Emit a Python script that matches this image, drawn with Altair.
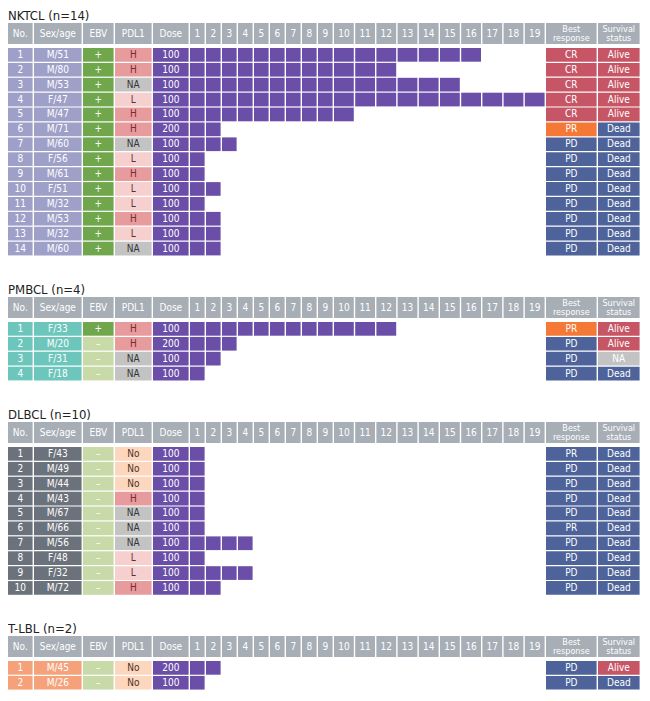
import altair as alt
import pandas as pd

# ---------------- data ----------------
COLUMNS = ["No.", "Sex/age", "EBV", "PDL1", "Dose"] + [str(i) for i in range(1, 20)] + ["Best\nresponse", "Survival\nstatus"]

NK_SEX = ["M/51", "M/80", "M/53", "F/47", "M/47", "M/71", "M/60", "F/56", "M/61", "F/51", "M/32", "M/53", "M/32", "M/60"]
NK_EBV = ["+", "+", "+", "+", "+", "+", "+", "+", "+", "+", "+", "+", "+", "+"]
NK_PDL1 = ["H", "H", "NA", "L", "H", "H", "NA", "L", "H", "L", "L", "H", "L", "NA"]
NK_DOSE = [100, 100, 100, 100, 100, 200, 100, 100, 100, 100, 100, 100, 100, 100]
NK_CYCLES = [16, 12, 15, 19, 10, 2, 3, 1, 1, 2, 1, 2, 2, 2]
NK_RESP = ["CR", "CR", "CR", "CR", "CR", "PR", "PD", "PD", "PD", "PD", "PD", "PD", "PD", "PD"]
NK_SURV = ["Alive", "Alive", "Alive", "Alive", "Alive", "Dead", "Dead", "Dead", "Dead", "Dead", "Dead", "Dead", "Dead", "Dead"]

PM_SEX = ["F/33", "M/20", "F/31", "F/18"]
PM_EBV = ["+", "–", "–", "–"]
PM_PDL1 = ["H", "H", "NA", "NA"]
PM_DOSE = [100, 200, 100, 100]
PM_CYCLES = [12, 3, 2, 1]
PM_RESP = ["PR", "PD", "PD", "PD"]
PM_SURV = ["Alive", "Alive", "NA", "Dead"]

DL_SEX = ["F/43", "M/49", "M/44", "M/43", "M/67", "M/66", "M/56", "F/48", "F/32", "M/72"]
DL_EBV = ["–", "–", "–", "–", "–", "–", "–", "–", "–", "–"]
DL_PDL1 = ["No", "No", "No", "H", "NA", "NA", "NA", "L", "L", "H"]
DL_DOSE = [100, 100, 100, 100, 100, 100, 100, 100, 100, 100]
DL_CYCLES = [1, 1, 1, 1, 1, 1, 4, 1, 4, 2]
DL_RESP = ["PR", "PD", "PD", "PD", "PD", "PR", "PD", "PD", "PD", "PD"]
DL_SURV = ["Dead", "Dead", "Dead", "Dead", "Dead", "Dead", "Dead", "Dead", "Dead", "Dead"]

TL_SEX = ["M/45", "M/26"]
TL_EBV = ["–", "–"]
TL_PDL1 = ["No", "No"]
TL_DOSE = [200, 100]
TL_CYCLES = [2, 1]
TL_RESP = ["PD", "PD"]
TL_SURV = ["Alive", "Dead"]

# ---------------- layout / style ----------------
COL_W = [26, 49, 32, 38, 37] + [16] * 9 + [21.2] * 10 + [52, 43]
EDGES = [sum(COL_W[:j]) for j in range(len(COL_W))]
TOTAL_W = sum(COL_W)
GAP = 1.4
HEADER_H = 21
HEADER_GAP = 4
ROW_PITCH = 14.9
ROW_GAP = 1.2
FONT = "DejaVu Sans Condensed, Liberation Sans Narrow, Roboto, sans-serif"

HEADER = "#a7aeb6"
PURPLE = "#6a4ea7"
EBV_FILL = {"+": "#70a64c", "–": "#c7daa8"}
PDL1_FILL = {"H": "#e79b9d", "L": "#f5d0ce", "NA": "#c3c3c3", "No": "#fcd7be"}
PDL1_INK = {"H": "#7a2a2c", "L": "#5a3030", "NA": "#333333", "No": "#4a3020"}
RESP_FILL = {"CR": "#c65565", "PR": "#f47936", "PD": "#4e6399"}
SURV_FILL = {"Alive": "#c65565", "Dead": "#4e6399", "NA": "#c3c3c3"}


def build(sex, ebv, pdl1, dose, cycles, resp, surv, id_fill, pr_highlight):
    cells = []

    def add(j, y0, y1, fill, label, ink, header=False):
        x0 = EDGES[j]
        x1 = EDGES[j] + COL_W[j] - GAP
        parts = label.split("\n")
        cells.append(dict(x=x0, x2=x1, xm=(x0 + x1) / 2, y=y0, y2=y1, ym=(y0 + y1) / 2,
                          fill=fill, ink=ink, kind=("h" if header else "b"),
                          label=(label if len(parts) == 1 else ""),
                          l1=(parts[0] if len(parts) == 2 else ""),
                          l2=(parts[1] if len(parts) == 2 else "")))

    for j, name in enumerate(COLUMNS):
        add(j, 0, HEADER_H, HEADER, name, "white", header=True)
    ncyc = 19
    for i in range(len(sex)):
        y0 = HEADER_H + HEADER_GAP + i * ROW_PITCH
        y1 = y0 + ROW_PITCH - ROW_GAP
        add(0, y0, y1, id_fill, str(i + 1), "white")
        add(1, y0, y1, id_fill, sex[i], "white")
        add(2, y0, y1, EBV_FILL[ebv[i]], ebv[i], "white")
        add(3, y0, y1, PDL1_FILL[pdl1[i]], pdl1[i], PDL1_INK[pdl1[i]])
        add(4, y0, y1, PURPLE, str(dose[i]), "white")
        for c in range(cycles[i]):
            add(5 + c, y0, y1, PURPLE, "", "white")
        rf = RESP_FILL[resp[i]] if (pr_highlight or resp[i] != "PR") else RESP_FILL["PD"]
        add(5 + ncyc, y0, y1, rf, resp[i], "white")
        add(6 + ncyc, y0, y1, SURV_FILL[surv[i]], surv[i], "white")
    return pd.DataFrame(cells)


def section(title, df, n):
    H = HEADER_H + HEADER_GAP + n * ROW_PITCH - ROW_GAP
    xs = alt.Scale(domain=[0, TOTAL_W], nice=False, zero=False)
    ys = alt.Scale(domain=[0, H], nice=False, zero=False, reverse=True)
    base = alt.Chart(df)
    pos = dict(x=alt.X("xm:Q", scale=xs, axis=None), y=alt.Y("ym:Q", scale=ys, axis=None))
    rects = base.mark_rect().encode(
        x=alt.X("x:Q", scale=xs, axis=None),
        x2="x2:Q",
        y=alt.Y("y:Q", scale=ys, axis=None),
        y2="y2:Q",
        fill=alt.Fill("fill:N", scale=None),
    )
    body_text = base.transform_filter("datum.kind == 'b'").mark_text(
        font=FONT, fontSize=10, baseline="middle", align="center"
    ).encode(text="label:N", fill=alt.Fill("ink:N", scale=None), **pos)
    head_text = base.transform_filter("datum.kind == 'h'").mark_text(
        font=FONT, fontSize=10, baseline="middle", align="center"
    ).encode(text="label:N", fill=alt.value("white"), **pos)
    head_l1 = base.transform_filter("datum.kind == 'h'").mark_text(
        font=FONT, fontSize=9, baseline="middle", align="center", dy=-4.3
    ).encode(text="l1:N", fill=alt.value("white"), **pos)
    head_l2 = base.transform_filter("datum.kind == 'h'").mark_text(
        font=FONT, fontSize=9, baseline="middle", align="center", dy=4.3
    ).encode(text="l2:N", fill=alt.value("white"), **pos)
    return alt.layer(rects, body_text, head_text, head_l1, head_l2).properties(
        width=TOTAL_W, height=H,
        title=alt.TitleParams(title, anchor="start", fontSize=13, fontWeight="normal",
                              font=FONT, color="#222222", offset=0),
    )


nk = section("NKTCL (n=14)", build(NK_SEX, NK_EBV, NK_PDL1, NK_DOSE, NK_CYCLES, NK_RESP, NK_SURV, "#9ea0c8", True), len(NK_SEX))
pm = section("PMBCL (n=4)", build(PM_SEX, PM_EBV, PM_PDL1, PM_DOSE, PM_CYCLES, PM_RESP, PM_SURV, "#6dc6bc", True), len(PM_SEX))
dl = section("DLBCL (n=10)", build(DL_SEX, DL_EBV, DL_PDL1, DL_DOSE, DL_CYCLES, DL_RESP, DL_SURV, "#6c727b", False), len(DL_SEX))
tl = section("T-LBL (n=2)", build(TL_SEX, TL_EBV, TL_PDL1, TL_DOSE, TL_CYCLES, TL_RESP, TL_SURV, "#f5a27b", True), len(TL_SEX))

chart = alt.vconcat(nk, pm, dl, tl, spacing=28).properties(
    padding={"top": 2, "left": 0, "right": 0, "bottom": 0}
).configure_view(stroke=None)

chart.save("out.html", embed_options={"renderer": "svg", "actions": False})
